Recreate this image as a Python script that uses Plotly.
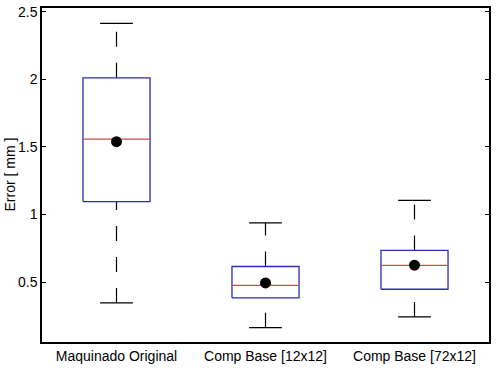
import plotly.graph_objects as go

categories = ["Maquinado Original", "Comp Base [12x12]", "Comp Base [72x12]"]
lower_whisker = [0.347, 0.164, 0.243]
q1 = [1.096, 0.384, 0.448]
median = [1.557, 0.476, 0.624]
q3 = [2.011, 0.616, 0.735]
upper_whisker = [2.413, 0.939, 1.105]
mean = [1.539, 0.495, 0.626]
y_ticks = [0.5, 1, 1.5, 2, 2.5]
y_tick_labels = ["0.5", "1", "1.5", "2", "2.5"]
y_title = "Error [ mm ]"

BOX_HALF = 0.225
CAP_HALF = 0.11
BLUE = "rgb(45,45,175)"
RED = "rgb(205,75,75)"

fig = go.Figure()
for i, name in enumerate(categories):
    x = i + 1
    fig.add_trace(go.Scatter(x=[x, x], y=[q3[i], upper_whisker[i]], mode="lines",
                             line=dict(color="black", width=1.2, dash="15px,16px"),
                             hoverinfo="skip", showlegend=False))
    fig.add_trace(go.Scatter(x=[x, x], y=[lower_whisker[i], q1[i]], mode="lines",
                             line=dict(color="black", width=1.2, dash="15px,16px"),
                             hoverinfo="skip", showlegend=False))
    for yv in (upper_whisker[i], lower_whisker[i]):
        fig.add_trace(go.Scatter(x=[x - CAP_HALF, x + CAP_HALF], y=[yv, yv], mode="lines",
                                 line=dict(color="black", width=1.2),
                                 hoverinfo="skip", showlegend=False))
    fig.add_trace(go.Scatter(x=[x - BOX_HALF, x + BOX_HALF, x + BOX_HALF, x - BOX_HALF, x - BOX_HALF],
                             y=[q1[i], q1[i], q3[i], q3[i], q1[i]], mode="lines",
                             line=dict(color=BLUE, width=1.3),
                             hoverinfo="skip", showlegend=False))
    fig.add_trace(go.Scatter(x=[x - BOX_HALF, x + BOX_HALF], y=[median[i], median[i]], mode="lines",
                             line=dict(color=RED, width=1.3),
                             hoverinfo="skip", showlegend=False))

fig.add_trace(go.Scatter(x=[1, 2, 3], y=mean, mode="markers",
                         marker=dict(color="black", size=11),
                         showlegend=False))

fig.update_layout(
    width=500, height=370,
    margin=dict(l=42, r=11, t=8, b=28),
    paper_bgcolor="white", plot_bgcolor="white",
    font=dict(family="Liberation Sans, Arial, sans-serif", size=14, color="black"),
    annotations=[dict(text=y_title, textangle=-90, xref="paper", yref="paper",
                      x=-0.0727, y=0.5, xanchor="center", yanchor="middle",
                      showarrow=False, font=dict(size=14))],
)
fig.update_xaxes(range=[0.5, 3.5], tickmode="array", tickvals=[1, 2, 3], ticktext=categories,
                 showgrid=False, zeroline=False, showline=True, linecolor="black", linewidth=1.5,
                 mirror=True, ticks="", ticklen=0, tickfont=dict(size=14), automargin=False)
fig.update_yaxes(range=[0.058, 2.527], tickmode="array", tickvals=y_ticks, ticktext=y_tick_labels,
                 showgrid=False, zeroline=False, showline=True, linecolor="black", linewidth=1.5,
                 mirror="ticks", ticks="inside", ticklen=4, tickcolor="black",
                 tickfont=dict(size=14), automargin=False)

fig.write_html("out.html", config={"displayModeBar": False},
               post_script="document.body.style.margin='0';document.body.style.overflow='hidden';")
